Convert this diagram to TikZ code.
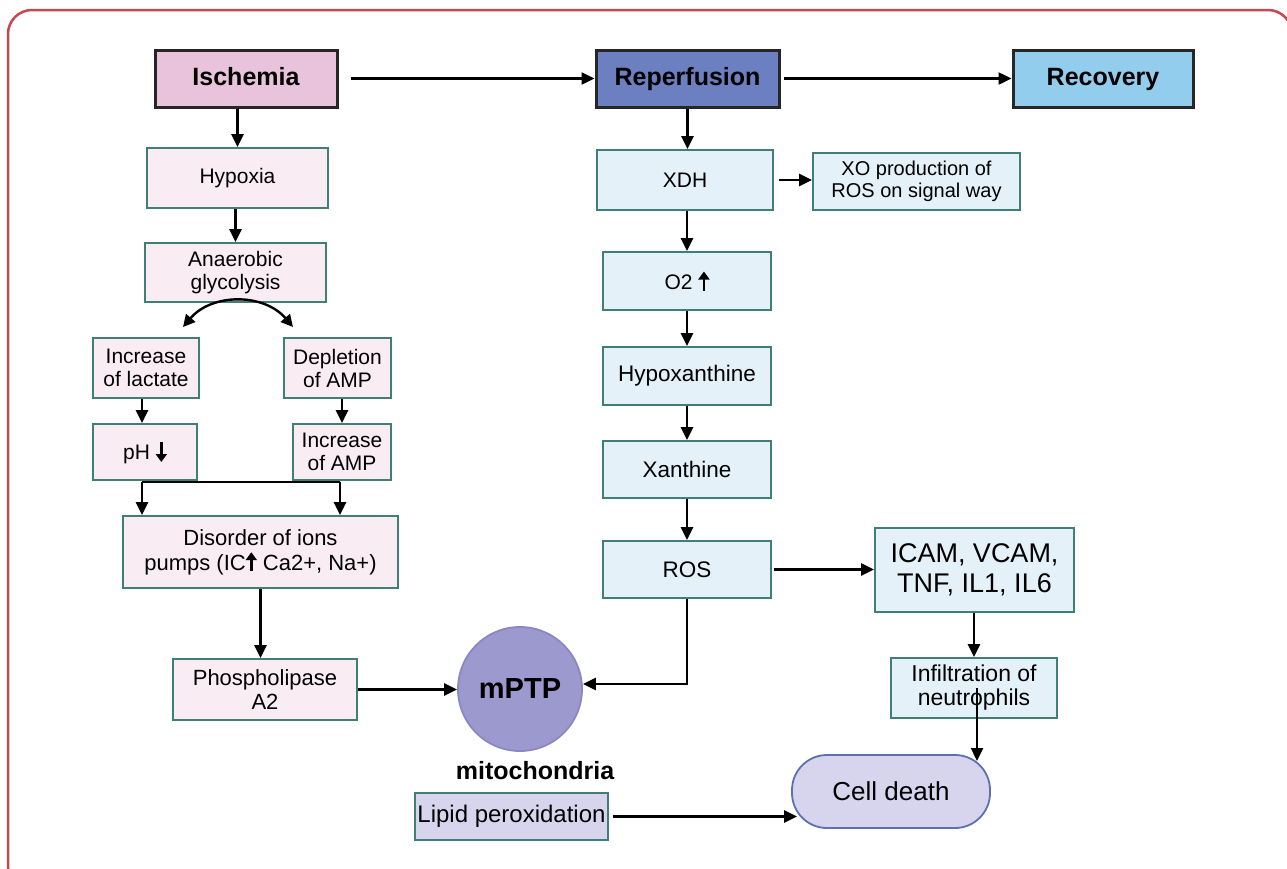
\documentclass[tikz,border=0pt]{standalone}
\usepackage{fontspec}
\setmainfont{Liberation Sans}
\usetikzlibrary{arrows.meta,calc}
\definecolor{frameC}{HTML}{C9474F}
\definecolor{tealB}{HTML}{3F7F78}
\definecolor{pinkL}{HTML}{F9EDF3}
\definecolor{blueL}{HTML}{E4F1F9}
\definecolor{iscC}{HTML}{E8C3DB}
\definecolor{repC}{HTML}{6B7FC1}
\definecolor{recC}{HTML}{92CDEE}
\definecolor{mptpC}{HTML}{9C99CE}
\definecolor{mptpB}{HTML}{8A87C2}
\definecolor{cdC}{HTML}{D7D5ED}
\definecolor{cdB}{HTML}{5E70AE}
\newcommand\uarr{\tikz[baseline=0pt]\draw[line width=2.8pt,-{Triangle[length=8pt,width=11pt]}] (0pt,-1pt)--(0pt,18pt);}
\newcommand\darr{\tikz[baseline=0pt]\draw[line width=2.8pt,-{Triangle[length=8pt,width=11pt]}] (0pt,17pt)--(0pt,-3pt);}
\newcommand\bx[7]{\node[#6, minimum width={#4-#2}, minimum height={#5-#3}] (#1) at ({(#2+#4)/2},{(#3+#5)/2}) {#7};}
\tikzset{
  base/.style={inner sep=0pt, align=center, font=\fontsize{21}{23}\selectfont},
  lbox/.style={base, draw=tealB, fill=pinkL, line width=1.8pt},
  rbox/.style={base, draw=tealB, fill=blueL, line width=1.8pt},
  tbox/.style={base, draw=black!85, line width=3pt, text height=18pt, text depth=5pt, font=\fontsize{25}{27}\selectfont\bfseries},
  arr/.style={line width=2.4pt, -{Triangle[length=13pt,width=12pt]}},
  plain/.style={line width=2.4pt}
}
\begin{document}
\begin{tikzpicture}[x=1pt,y=-1pt]
\useasboundingbox (0,0) rectangle (1287,868);
\begin{scope}
\clip (0,0) rectangle (1287,868);
\draw[frameC, line width=2.5pt, rounded corners=24pt] (8,10) rectangle (1292,890);
\end{scope}
% titles
\bx{isc}{155}{50}{337}{107}{tbox, fill=iscC}{Ischemia}
\bx{rep}{596}{50}{779}{107}{tbox, fill=repC}{Reperfusion}
\bx{rec}{1013}{50}{1193}{107}{tbox, fill=recC}{Recovery}
% left column
\bx{hyp}{147}{148}{328}{208}{lbox}{Hypoxia}
\bx{ana}{145}{243}{326}{302}{lbox}{Anaerobic\\glycolysis}
\bx{lac}{93}{338}{199}{398}{lbox}{Increase\\of lactate}
\bx{dep}{284}{338}{391}{398}{lbox}{Depletion\\of AMP}
\bx{ph}{93}{424}{197}{480}{lbox}{pH \darr}
\bx{inc}{293}{424}{391}{480}{lbox}{Increase\\of AMP}
\bx{dis}{123}{516}{398}{588}{lbox, font=\fontsize{22}{25}\selectfont}{Disorder of ions\\pumps (IC\uarr{} Ca2+, Na+)}
\bx{pla}{173}{659}{357}{720}{lbox, font=\fontsize{22}{24}\selectfont}{Phospholipase\\A2}
% right column
\bx{xdh}{597}{150}{773}{210}{rbox}{XDH}
\bx{xo}{813}{153}{1020}{210}{rbox, font=\fontsize{20}{22}\selectfont}{XO production of\\ROS on signal way}
\bx{o2}{603}{252}{771}{310}{rbox}{O2 \uarr}
\bx{hx}{603}{347}{771}{405}{rbox, font=\fontsize{22.5}{24}\selectfont}{Hypoxanthine}
\bx{xan}{603}{441}{771}{498}{rbox, font=\fontsize{22.5}{24}\selectfont}{Xanthine}
\bx{ros}{603}{541}{771}{598}{rbox, font=\fontsize{22.5}{24}\selectfont}{ROS}
\bx{icam}{875}{528}{1074}{612}{rbox, font=\fontsize{27}{30}\selectfont}{ICAM, VCAM,\\TNF, IL1, IL6}
\bx{inf}{891}{658}{1057}{718}{rbox, font=\fontsize{23}{24}\selectfont}{Infiltration of\\neutrophils}
% bottom
\node[circle, draw=mptpB, fill=mptpC, line width=1.8pt, minimum size=124pt, inner sep=0pt, font=\fontsize{29}{30}\selectfont\bfseries] (mptp) at (520,689) {mPTP};
\node[font=\fontsize{25}{27}\selectfont\bfseries, inner sep=0pt] (mito) at (535,771) {mitochondria};
\bx{lip}{415}{793}{608}{840}{lbox, fill=cdC, font=\fontsize{24}{26}\selectfont}{Lipid peroxidation}
\bx{cd}{792}{755}{990}{828}{base, draw=cdB, fill=cdC, line width=1.8pt, rounded corners=35pt, font=\fontsize{26}{28}\selectfont}{Cell death}
% connectors
\draw[arr, shorten <=12pt] (isc.east) -- (rep.west);
\draw[arr, shorten <=3pt] (rep.east) -- (rec.west);
\draw[arr] (hyp.north |- isc.south) -- (hyp.north);
\draw[arr] (ana.north |- hyp.south) -- (ana.north);
\coordinate (al) at (183,327);
\coordinate (ar) at (293,327);
\draw[line width=2.4pt, {Triangle[length=12pt,width=12pt]}-{Triangle[length=12pt,width=12pt]}] (al) .. controls (212,293) and (264,293) .. (ar);
\draw[arr] ($(ph.north |- lac.south)+(-3,0)$) -- ($(ph.north)+(-3,0)$);
\draw[arr] (inc.north |- dep.south) -- (inc.north);
\coordinate (jl) at (142,482);
\coordinate (jr) at (340,482);
\draw[plain] (jl) -- (jr);
\draw[arr] (jl) -- (jl |- dis.north);
\draw[arr] (jr) -- (jr |- dis.north);
\draw[arr] (dis.south) -- (dis.south |- pla.north);
\draw[arr] (pla.east) -- (pla.east -| mptp.west);
\draw[arr] (rep.south) -- (rep.south |- xdh.north);
\draw[arr, shorten <=5pt] (xdh.east) -- (xdh.east -| xo.west);
\draw[arr] (o2.north |- xdh.south) -- (o2.north);
\draw[arr] (o2.south) -- (hx.north);
\draw[arr] (hx.south) -- (xan.north);
\draw[arr] (xan.south) -- (ros.north);
\draw[arr, shorten <=2pt] (ros.east) -- (ros.east -| icam.west);
\draw[arr] (ros.south) |- ($(mptp.east)+(0,-5)$);
\draw[arr] (icam.south -| inf.north) -- (inf.north);
\coordinate (infx) at (977,688);
\draw[arr] (infx) -- (977,761);
\draw[arr, shorten <=4pt] (lip.east) -- ($(lip.east -| cd.west)+(6,0)$);
\end{tikzpicture}
\end{document}
